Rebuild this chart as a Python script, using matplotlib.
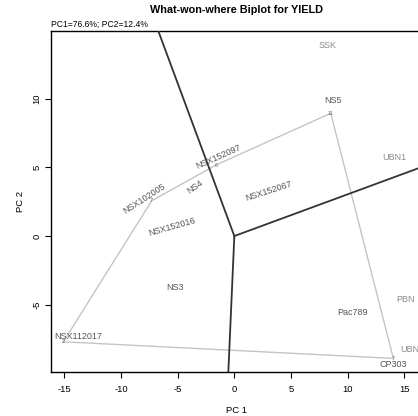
import matplotlib
matplotlib.use("Agg")
import matplotlib.pyplot as plt

plt.rcParams['font.family'] = ['Liberation Sans', 'DejaVu Sans']
plt.rcParams['axes.unicode_minus'] = False

# ---- data ----
title = "What-won-where Biplot for YIELD"
subtitle = "PC1=76.6%; PC2=12.4%"

# polygon vertices (vertex genotypes), in order
poly_names = ["NSX112017", "NSX102005", "NSX152097", "NS5", "CP303"]
poly_x = [-15.09, -7.29, -1.62, 8.51, 14.03]
poly_y = [-7.70, 2.57, 5.17, 8.94, -8.91]
poly_marks = ["2", "7", "6", "11", "7"]

# genotype labels
geno_names = ["NSX102005", "NSX152097", "NS4", "NSX152067", "NSX152016",
              "NS5", "NS3", "Pac789", "CP303", "NSX112017"]
geno_x = [-7.97, -1.38, -3.50, 3.06, -5.55, 8.74, -5.23, 10.41, 14.03, -13.77]
geno_y = [2.69, 5.73, 3.55, 3.30, 0.66, 9.90, -3.74, -5.56, -9.32, -7.33]

# environment labels
env_names = ["SSK", "UBN1", "PBN", "UBN2"]
env_x = [8.24, 14.12, 15.07, 15.75]
env_y = [13.91, 5.73, -4.61, -8.24]

# sector rays (end points; all start at the origin)
ray_x = [-6.71, 16.65, -0.53]
ray_y = [14.93, 5.06, -9.90]

xticks = [-15, -10, -5, 0, 5, 10, 15]
yticks = [-5, 0, 5, 10]

# ---- styles ----
geno_rot = [33, 24, 35, 18, 16, 0, 0, 0, 0, 0]
geno_color = "#555555"
env_color = "#8a8a8a"
poly_color = "#c4c4c4"
ray_color = "#333333"

W, H = 418, 416
fig = plt.figure(figsize=(W / 100, H / 100), dpi=100)
ax = fig.add_axes([51 / W, 44 / H, 372 / W, 341 / H])
ax.set_xlim(-16.18, 16.65)
ax.set_ylim(-9.90, 14.93)

# polygon
px = poly_x + [poly_x[0]]
py = poly_y + [poly_y[0]]
ax.plot(px, py, color=poly_color, lw=1.0, zorder=2)

# rays
for rx, ry in zip(ray_x, ray_y):
    ax.plot([0, rx], [0, ry], color=ray_color, lw=1.3, zorder=3)

# vertex marks
for x, y, m in zip(poly_x, poly_y, poly_marks):
    ax.text(x, y, m, fontsize=4, color="#666666", ha="center", va="center", zorder=4)

# genotype labels
for n, x, y, r in zip(geno_names, geno_x, geno_y, geno_rot):
    ax.text(x, y, n, fontsize=6.5, color=geno_color, ha="center", va="center",
            rotation=r, rotation_mode="anchor", zorder=5)

# environment labels
for n, x, y in zip(env_names, env_x, env_y):
    ax.text(x, y, n, fontsize=6.5, color=env_color, ha="center", va="center",
            clip_on=False, zorder=5)

ax.set_xticks(xticks)
ax.set_yticks(yticks)
ax.set_xticklabels([str(t) for t in xticks])
ax.set_yticklabels([str(t) for t in yticks], rotation=90, va="center")
ax.tick_params(axis="both", direction="out", length=4, width=0.8, labelsize=6.8)
ax.tick_params(axis="x", pad=5)
ax.tick_params(axis="y", pad=3)
for s in ["left", "top", "bottom"]:
    ax.spines[s].set_linewidth(1.0)
ax.spines["right"].set_visible(False)

ax.set_xlabel("PC 1", fontsize=6.8, labelpad=9)
ax.set_ylabel("PC 2", fontsize=6.8, labelpad=5)

fig.text(237 / W, 1 - 10 / H, title, fontsize=7.8, fontweight="bold",
         ha="center", va="center")
ax.text(0, 1.005, subtitle, transform=ax.transAxes, fontsize=6.2,
        ha="left", va="bottom")

fig.savefig("out.png", dpi=100)
